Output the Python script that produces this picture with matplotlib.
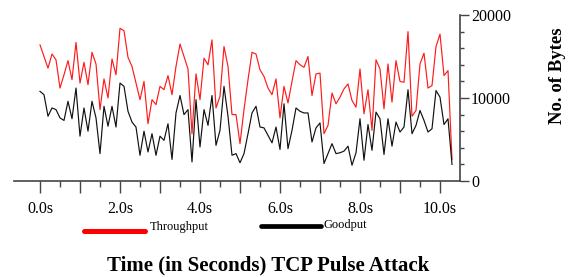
import matplotlib
matplotlib.use('Agg')
import matplotlib.pyplot as plt
import numpy as np
from matplotlib.lines import Line2D
from matplotlib.ticker import FixedLocator, FuncFormatter

plt.rcParams['font.family'] = ['Liberation Serif', 'DejaVu Serif']

# bytes per 0.1 s sample
throughput = [
    16400, 15000, 13600, 15300, 14600, 11200, 12800, 14500, 12200, 16700,
    11800, 14300, 11600, 15500, 14100, 8600, 12300, 10000, 14700, 12800,
    18400, 18100, 14900, 13800, 11800, 9800, 12000, 6900, 9800, 9200,
    11400, 11000, 12700, 10400, 13800, 16500, 15000, 13500, 5700, 12900,
    9800, 14800, 14000, 17000, 8800, 10200, 16200, 13800, 8000, 8000,
    4500, 8600, 12200, 15500, 15300, 13400, 12600, 11200, 10400, 12300,
    7600, 11400, 9400, 12000, 14500, 14000, 13700, 15000, 10300, 12900,
    13000, 5700, 6700, 10600, 9300, 10100, 11100, 11700, 9700, 8900,
    13500, 8100, 11000, 6100, 14600, 13500, 8700, 14100, 9500, 14500,
    12000, 11900, 18000, 7800, 8500, 14100, 15400, 11200, 11500, 16200,
    17700, 12700, 13300, 2600,
]
goodput = [
    10800, 10400, 7800, 8800, 8600, 7600, 7300, 9600, 7500, 11200,
    5400, 8800, 6000, 9600, 7600, 3300, 9000, 6600, 9000, 6500,
    11800, 11400, 8400, 7100, 6500, 3100, 6000, 3500, 5700, 3100,
    5400, 4900, 6900, 2600, 8200, 10300, 8000, 8600, 2300, 9800,
    4100, 8600, 6700, 10300, 4300, 6100, 11400, 7800, 3100, 3300,
    2200, 3300, 5700, 8200, 9000, 6500, 6400, 5500, 4600, 6500,
    3800, 9300, 3900, 6100, 8800, 8400, 8200, 8200, 4700, 6400,
    7000, 2100, 3300, 4500, 3300, 3400, 3600, 4200, 1900, 3400,
    7500, 2500, 6800, 3700, 8300, 7500, 3200, 7500, 4200, 7100,
    5900, 6500, 11000, 5700, 6700, 8500, 7300, 5900, 6300, 10900,
    10100, 6800, 7500, 2000,
]
step = 0.1
time_s = np.arange(len(throughput)) * step

y_major = [0, 10000, 20000]
x_labelled = [0, 2, 4, 6, 8, 10]

W, H = 574, 277
axis_c = '#444444'

fig = plt.figure(figsize=(W / 100, H / 100), dpi=100)
ax = fig.add_axes([14 / W, 96 / H, 446 / W, 166 / H])

ax.plot(time_s, throughput, color='#ff1a1a', lw=0.85)
ax.plot(time_s, goodput, color='#111111', lw=0.85)

ax.set_xlim(-0.65, 10.5)
ax.set_ylim(0, 20000)

for s in ['top', 'left']:
    ax.spines[s].set_visible(False)
for s in ['bottom', 'right']:
    ax.spines[s].set_color(axis_c)
    ax.spines[s].set_linewidth(1.2)

# y axis on the right
ax.yaxis.tick_right()
ax.yaxis.set_major_locator(FixedLocator(y_major))
ax.yaxis.set_minor_locator(FixedLocator(np.arange(2000, 20000, 2000)))
ax.tick_params(axis='y', which='major', length=6.5, width=1, color=axis_c,
               labelsize=11.5, pad=1.5)
ax.tick_params(axis='y', which='minor', length=3, width=1, color=axis_c)

# x axis: long ticks every 2 s, medium every 1 s, short every 0.5 s
ax.xaxis.set_major_locator(FixedLocator(np.arange(0, 11, 1)))
ax.xaxis.set_minor_locator(FixedLocator(np.arange(0.5, 10.5, 1)))
ax.xaxis.set_major_formatter(FuncFormatter(
    lambda v, p: f'{v:.1f}s' if round(v) in x_labelled else ''))
ax.tick_params(axis='x', which='major', length=8.6, width=1, color=axis_c,
               labelsize=11.5, pad=5.5)
ax.tick_params(axis='x', which='minor', length=4.2, width=1, color=axis_c)

for t in ax.xaxis.get_major_ticks():
    if round(t.get_loc()) % 2:
        t.tick1line.set_markersize(6.4)

fig.text(558 / W, 1 - 76 / H, 'No. of Bytes', rotation=90, fontsize=13.5,
         fontweight='bold', ha='center', va='center')
fig.text(268 / W, 1 - 265 / H, 'Time (in Seconds) TCP Pulse Attack',
         fontsize=15, fontweight='bold', ha='center', va='center')

# legend drawn by hand, entries sit apart under the axis
fig.add_artist(Line2D([84 / W, 145 / W], [1 - 231 / H] * 2, color='#ff0000',
                      lw=3.6, solid_capstyle='round'))
fig.text(150 / W, 1 - 227 / H, 'Throughput', fontsize=9, va='center')
fig.add_artist(Line2D([261 / W, 321 / W], [1 - 226 / H] * 2, color='black',
                      lw=3.4, solid_capstyle='round'))
fig.text(323 / W, 1 - 225 / H, 'Goodput', fontsize=9, va='center')

fig.savefig('out.png', dpi=100)
